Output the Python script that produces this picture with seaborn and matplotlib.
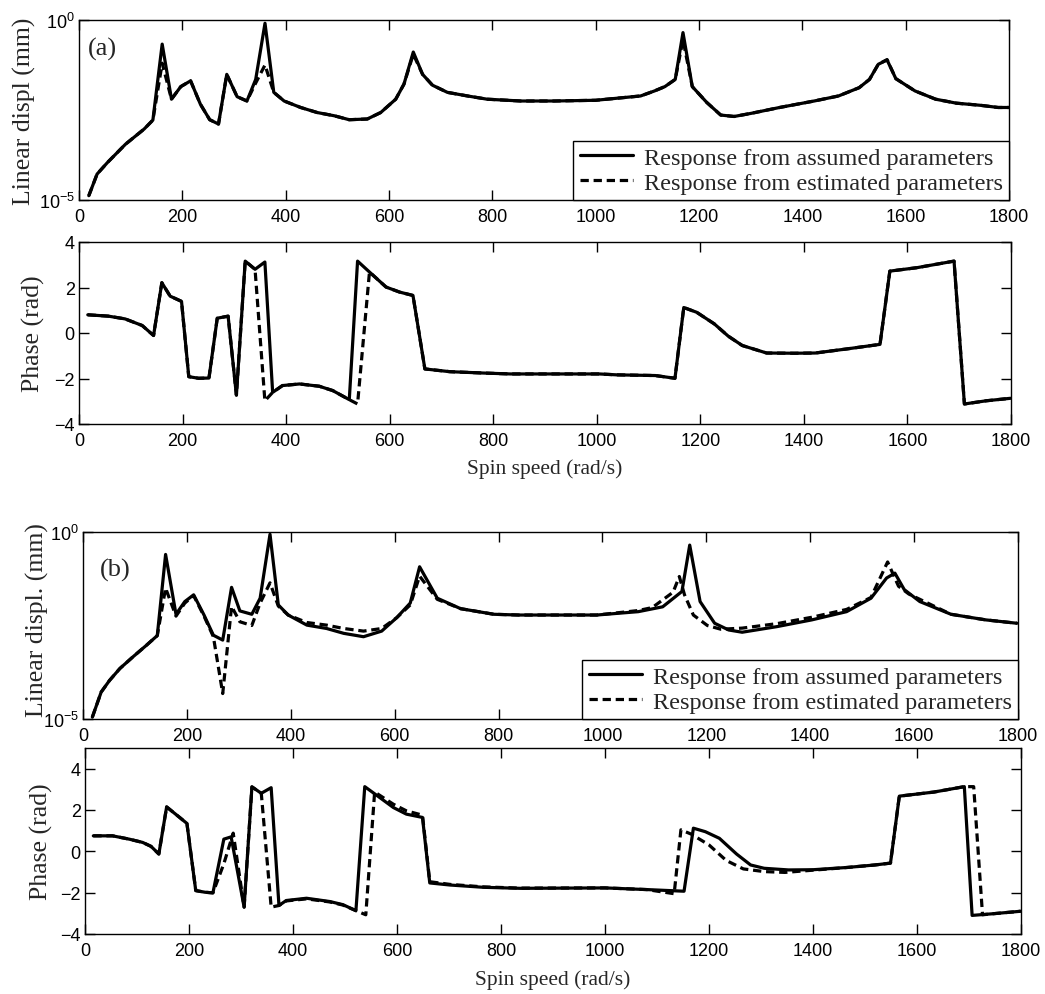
import numpy as np
import pandas as pd
import matplotlib
matplotlib.use('Agg')
import matplotlib.pyplot as plt
import seaborn as sns

# ---------------------------------------------------------
# Data
# magnitudes are stored as log10(displacement in mm)
# ---------------------------------------------------------

# (a) linear displacement
speed_a_mag = [19, 35, 55, 90, 126, 143, 161, 179, 197, 216,
               235, 253, 270, 286, 306, 325, 342, 360, 377, 397,
               429, 461, 494, 523, 558, 584, 613, 629, 647, 665,
               684, 713, 752, 790, 855, 920, 1000, 1087, 1114, 1134,
               1154, 1169, 1187, 1215, 1242, 1268, 1302, 1356, 1423, 1470,
               1510, 1530, 1547, 1564, 1581, 1618, 1658, 1698, 1745, 1779,
               1800]
logdisp_a_assumed = [-4.88, -4.28, -3.96, -3.45, -3.03, -2.78, -0.67, -2.2, -1.85, -1.69,
                     -2.34, -2.77, -2.89, -1.51, -2.13, -2.25, -1.65, -0.09, -2.01, -2.25,
                     -2.43, -2.57, -2.66, -2.77, -2.75, -2.57, -2.2, -1.78, -0.89, -1.51,
                     -1.81, -2.01, -2.11, -2.2, -2.25, -2.25, -2.23, -2.11, -1.97, -1.85,
                     -1.65, -0.35, -1.85, -2.29, -2.64, -2.68, -2.59, -2.43, -2.25, -2.11,
                     -1.88, -1.65, -1.23, -1.11, -1.63, -1.97, -2.2, -2.31, -2.37, -2.43,
                     -2.43]
logdisp_a_estimated = [-4.88, -4.28, -3.96, -3.45, -3.03, -2.78, -1.2, -2.2, -1.85, -1.69,
                       -2.34, -2.77, -2.89, -1.51, -2.13, -2.25, -1.75, -1.25, -2.01, -2.25,
                       -2.43, -2.57, -2.66, -2.77, -2.75, -2.57, -2.2, -1.78, -0.95, -1.51,
                       -1.81, -2.01, -2.11, -2.2, -2.25, -2.25, -2.23, -2.11, -1.97, -1.85,
                       -1.65, -0.55, -1.85, -2.29, -2.64, -2.68, -2.59, -2.43, -2.25, -2.11,
                       -1.88, -1.65, -1.23, -1.1, -1.63, -1.97, -2.2, -2.31, -2.37, -2.43,
                       -2.43]

# (a) phase
speed_a_phase = [17, 57, 89, 122, 144, 160, 176, 198, 212, 231,
                 251, 267, 288, 304, 321, 340, 359, 374, 393, 426,
                 464, 490, 522, 538, 561, 593, 619, 645, 668, 716,
                 781, 833, 1005, 1039, 1113, 1151, 1168, 1193, 1227, 1254,
                 1281, 1328, 1382, 1422, 1483, 1547, 1566, 1618, 1690, 1710,
                 1752, 1799]
phase_a_assumed = [0.8, 0.74, 0.62, 0.33, -0.11, 2.21, 1.62, 1.39, -1.92, -1.99,
                   -1.98, 0.65, 0.74, -2.73, 3.16, 2.8, 3.12, -2.61, -2.31, -2.24,
                   -2.34, -2.53, -2.93, 3.16, 2.68, 2.02, 1.8, 1.65, -1.58, -1.7,
                   -1.76, -1.8, -1.8, -1.84, -1.87, -1.99, 1.12, 0.91, 0.4, -0.14,
                   -0.55, -0.88, -0.89, -0.88, -0.7, -0.5, 2.72, 2.87, 3.16, -3.12,
                   -2.98, -2.87]
phase_a_estimated = [0.8, 0.74, 0.62, 0.33, -0.11, 2.21, 1.62, 1.39, -1.92, -1.99,
                     -1.98, 0.65, 0.74, -2.73, 3.16, 2.8, -2.98, -2.61, -2.31, -2.24,
                     -2.34, -2.53, -2.93, -3.12, 2.68, 2.02, 1.8, 1.65, -1.58, -1.7,
                     -1.76, -1.8, -1.8, -1.84, -1.87, -1.99, 1.12, 0.91, 0.4, -0.14,
                     -0.55, -0.88, -0.89, -0.88, -0.7, -0.5, 2.72, 2.87, 3.16, -3.12,
                     -2.98, -2.87]

# (b) linear displacement
speed_b_mag_assumed = [18, 35, 51, 71, 96, 122, 143, 159, 179, 196,
                       213, 233, 251, 269, 286, 302, 325, 341, 360, 376,
                       395, 431, 469, 502, 540, 575, 604, 630, 648, 682,
                       727, 791, 839, 989, 1069, 1116, 1153, 1168, 1188, 1216,
                       1243, 1269, 1336, 1403, 1470, 1517, 1547, 1563, 1581, 1611,
                       1671, 1738, 1798]
logdisp_b_assumed = [-4.95, -4.28, -3.97, -3.65, -3.34, -3.03, -2.77, -0.6, -2.2, -1.86,
                     -1.68, -2.22, -2.76, -2.89, -1.48, -2.11, -2.2, -1.77, -0.06, -1.95,
                     -2.22, -2.49, -2.58, -2.71, -2.8, -2.65, -2.29, -1.9, -0.93, -1.77,
                     -2.05, -2.2, -2.22, -2.22, -2.13, -2.0, -1.59, -0.35, -1.86, -2.44,
                     -2.62, -2.68, -2.53, -2.35, -2.13, -1.77, -1.23, -1.1, -1.54, -1.86,
                     -2.2, -2.35, -2.44]
speed_b_mag_estimated = [18, 35, 51, 71, 96, 122, 143, 159, 179, 196,
                         213, 233, 251, 269, 286, 302, 325, 341, 360, 376,
                         395, 431, 469, 502, 540, 575, 604, 630, 648, 682,
                         727, 791, 839, 989, 1069, 1096, 1136, 1148, 1158, 1175,
                         1202, 1228, 1269, 1336, 1403, 1470, 1517, 1549, 1570, 1590,
                         1611, 1671, 1738, 1798]
logdisp_b_estimated = [-4.95, -4.28, -3.97, -3.65, -3.34, -3.03, -2.77, -1.5, -2.25, -1.9,
                       -1.7, -2.25, -2.8, -4.32, -1.99, -2.4, -2.5, -1.9, -1.36, -1.98,
                       -2.22, -2.42, -2.49, -2.58, -2.65, -2.58, -2.29, -1.95, -1.18, -1.8,
                       -2.05, -2.2, -2.22, -2.22, -2.1, -2.02, -1.61, -1.19, -1.68, -2.22,
                       -2.5, -2.6, -2.57, -2.45, -2.28, -2.07, -1.75, -0.8, -1.45, -1.66,
                       -1.8, -2.2, -2.35, -2.44]

# (b) phase
speed_b_phase_assumed = [16, 53, 85, 111, 127, 142, 157, 182, 196, 213,
                         231, 246, 267, 281, 306, 321, 339, 358, 373, 387,
                         426, 471, 496, 521, 538, 561, 593, 618, 649, 663,
                         702, 766, 837, 1000, 1080, 1152, 1170, 1193, 1220, 1253,
                         1280, 1306, 1353, 1400, 1466, 1519, 1549, 1566, 1633, 1691,
                         1706, 1746, 1799]
phase_b_assumed = [0.75, 0.75, 0.59, 0.43, 0.24, -0.13, 2.15, 1.64, 1.35, -1.9,
                   -1.98, -2.01, 0.59, 0.7, -2.7, 3.12, 2.81, 3.08, -2.62, -2.38,
                   -2.27, -2.43, -2.58, -2.87, 3.13, 2.71, 2.12, 1.8, 1.64, -1.53,
                   -1.63, -1.74, -1.79, -1.77, -1.85, -1.93, 1.12, 0.95, 0.63, -0.13,
                   -0.66, -0.82, -0.9, -0.89, -0.78, -0.66, -0.57, 2.67, 2.87, 3.13,
                   -3.1, -3.02, -2.9]
speed_b_phase_estimated = [16, 53, 85, 111, 127, 142, 157, 182, 196, 213,
                           231, 246, 267, 285, 306, 321, 339, 358, 373, 387,
                           426, 471, 496, 521, 540, 557, 593, 618, 649, 663,
                           702, 766, 837, 1000, 1080, 1133, 1146, 1166, 1200, 1233,
                           1266, 1306, 1346, 1386, 1466, 1519, 1549, 1566, 1633, 1691,
                           1709, 1726, 1746, 1799]
phase_b_estimated = [0.75, 0.75, 0.59, 0.43, 0.24, -0.13, 2.15, 1.64, 1.35, -1.9,
                     -1.98, -2.01, -0.6, 0.88, -2.7, 3.12, 2.81, -2.7, -2.62, -2.4,
                     -2.3, -2.45, -2.6, -2.87, -3.07, 2.87, 2.28, 1.96, 1.75, -1.47,
                     -1.6, -1.72, -1.78, -1.77, -1.85, -2.05, 1.04, 0.83, 0.31, -0.44,
                     -0.85, -0.98, -1.02, -0.94, -0.78, -0.66, -0.57, 2.67, 2.87, 3.13,
                     3.13, -3.07, -3.02, -2.9]

legend_labels = ['Response from assumed parameters', 'Response from estimated parameters']
speed_ticks = [0, 200, 400, 600, 800, 1000, 1200, 1400, 1600, 1800]

# ---------------------------------------------------------
# Styling (MATLAB-like: inward ticks on all four sides)
# ---------------------------------------------------------
sns.set_style('ticks')
plt.rcParams['font.family'] = ['Liberation Sans', 'DejaVu Sans']
plt.rcParams['axes.linewidth'] = 1.0
SERIF = 'Liberation Serif'
LW = 2.3
DASH = (2.6, 1.5)

fig = plt.figure(figsize=(10.45, 9.95), dpi=100)
W, H = 1045.0, 995.0


def add_axes(left, right, top, bottom):
    return fig.add_axes([left / W, 1 - bottom / H, (right - left) / W, (bottom - top) / H])


def style_axis(ax):
    ax.set_xlim(0, 1800)
    ax.set_xticks(speed_ticks)
    ax.minorticks_off()
    ax.tick_params(which='major', direction='in', length=7, width=1.0,
                   top=True, right=True, bottom=True, left=True,
                   labelsize=13, color='black', labelcolor='black')
    ax.tick_params(axis='x', pad=6)
    ax.tick_params(axis='y', pad=3)
    for s in ax.spines.values():
        s.set_visible(True)
        s.set_color('black')
        s.set_linewidth(1.0)


def draw_pair(ax, x1, y1, x2, y2):
    sns.lineplot(x=x1, y=y1, ax=ax, color='black', lw=LW, estimator=None, sort=False,
                 label=legend_labels[0])
    sns.lineplot(x=x2, y=y2, ax=ax, color='black', lw=LW, estimator=None, sort=False,
                 dashes=False, linestyle=(0, DASH), label=legend_labels[1])


def magnitude_axis(ax, ylabel, tag, tag_xy, label_x, label_y):
    ax.set_yscale('log')
    ax.set_ylim(1e-5, 1)
    ax.set_yticks([1e-5, 1])
    style_axis(ax)
    ax.set_xlabel('')
    ax.set_ylabel(ylabel, family=SERIF, fontsize=18.5)
    ax.yaxis.set_label_coords(label_x, label_y)
    ax.text(tag_xy[0], tag_xy[1], tag, transform=ax.transAxes, family=SERIF,
            fontsize=19, ha='left', va='center')
    leg = ax.legend(loc='lower right', borderaxespad=0, frameon=True, fancybox=False,
                    edgecolor='black', handlelength=2.2, handletextpad=0.45,
                    borderpad=0.25, labelspacing=0.12, prop={'family': SERIF, 'size': 17.5})
    leg.get_frame().set_linewidth(1.0)
    leg.get_frame().set_alpha(1)


def phase_axis(ax, ylim, label_x, xlabel_y):
    ax.set_ylim(*ylim)
    ax.set_yticks([-4, -2, 0, 2, 4])
    style_axis(ax)
    ax.set_ylabel('Phase (rad)', family=SERIF, fontsize=18.5)
    ax.yaxis.set_label_coords(label_x, 0.5)
    ax.set_xlabel('Spin speed (rad/s)', family=SERIF, fontsize=15.5)
    ax.xaxis.set_label_coords(0.5, xlabel_y)
    if ax.get_legend() is not None:
        ax.get_legend().remove()


# ---------------------------------------------------------
# (a)
# ---------------------------------------------------------
ax1 = add_axes(79, 1009, 21, 201)
draw_pair(ax1, speed_a_mag, 10 ** np.array(logdisp_a_assumed),
          speed_a_mag, 10 ** np.array(logdisp_a_estimated))
magnitude_axis(ax1, 'Linear displ (mm)', '(a)', (0.01, 0.84), -0.046, 0.5)

ax2 = add_axes(79, 1011, 243, 425)
draw_pair(ax2, speed_a_phase, phase_a_assumed, speed_a_phase, phase_a_estimated)
phase_axis(ax2, (-4, 4), -0.036, -0.19)

# ---------------------------------------------------------
# (b)
# ---------------------------------------------------------
ax3 = add_axes(83, 1018, 533, 720)
draw_pair(ax3, speed_b_mag_assumed, 10 ** np.array(logdisp_b_assumed),
          speed_b_mag_estimated, 10 ** np.array(logdisp_b_estimated))
magnitude_axis(ax3, 'Linear displ. (mm)', '(b)', (0.018, 0.8), -0.036, 0.535)

ax4 = add_axes(85, 1021, 749, 935)
draw_pair(ax4, speed_b_phase_assumed, phase_b_assumed,
          speed_b_phase_estimated, phase_b_estimated)
phase_axis(ax4, (-4, 5), -0.034, -0.19)

fig.savefig('out.png', dpi=100, facecolor='white')
